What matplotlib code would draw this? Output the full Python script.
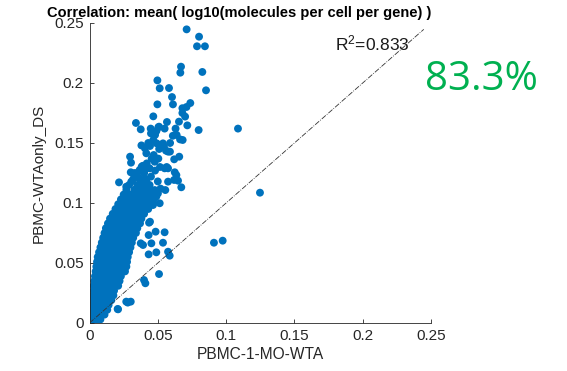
import matplotlib
matplotlib.use("Agg")
import matplotlib.pyplot as plt

plt.rcParams['font.family'] = ['Liberation Sans', 'DejaVu Sans']
plt.rcParams['mathtext.fontset'] = 'custom'
plt.rcParams['mathtext.rm'] = 'Liberation Sans'
plt.rcParams['mathtext.it'] = 'Liberation Sans'

# dense band: y level of each row and x values read along that row
band_y = [0.003, 0.007, 0.011, 0.015, 0.019, 0.023, 0.027, 0.031, 0.035, 0.039,
          0.043, 0.047, 0.051, 0.055, 0.059, 0.063, 0.067, 0.071, 0.075, 0.079,
          0.083, 0.087, 0.091, 0.095, 0.099, 0.103, 0.107, 0.111, 0.115, 0.120, 0.125]
band_x = [
    [0.0005, 0.002, 0.004, 0.006, 0.008],
    [0.001, 0.003, 0.005, 0.007, 0.009, 0.011],
    [0.001, 0.0035, 0.006, 0.0085, 0.011, 0.013],
    [0.0015, 0.004, 0.0065, 0.009, 0.0115, 0.014],
    [0.002, 0.0045, 0.007, 0.0095, 0.012, 0.0145, 0.016],
    [0.0025, 0.005, 0.0075, 0.010, 0.0125, 0.015, 0.0175],
    [0.003, 0.0055, 0.008, 0.0105, 0.013, 0.0155, 0.018],
    [0.003, 0.006, 0.0085, 0.011, 0.0135, 0.016, 0.019, 0.021],
    [0.0035, 0.006, 0.009, 0.0115, 0.014, 0.0165, 0.019, 0.022],
    [0.004, 0.0065, 0.0095, 0.012, 0.0145, 0.017, 0.020, 0.023],
    [0.0045, 0.007, 0.010, 0.0125, 0.015, 0.0175, 0.0205, 0.0235, 0.026],
    [0.005, 0.0075, 0.0105, 0.013, 0.0155, 0.018, 0.021, 0.024, 0.027],
    [0.0055, 0.008, 0.011, 0.0135, 0.016, 0.0185, 0.0215, 0.0245, 0.0275],
    [0.006, 0.009, 0.0115, 0.014, 0.0165, 0.019, 0.022, 0.025, 0.028],
    [0.007, 0.0095, 0.012, 0.0145, 0.017, 0.0195, 0.0225, 0.0255, 0.029],
    [0.008, 0.0105, 0.013, 0.0155, 0.018, 0.0205, 0.023, 0.026, 0.030],
    [0.009, 0.0115, 0.014, 0.0165, 0.019, 0.0215, 0.024, 0.027, 0.031],
    [0.010, 0.0125, 0.015, 0.0175, 0.020, 0.0225, 0.025, 0.028, 0.032],
    [0.0110, 0.014, 0.0165, 0.019, 0.0215, 0.024, 0.0265, 0.029, 0.034],
    [0.012, 0.0155, 0.018, 0.0205, 0.023, 0.0255, 0.028, 0.031, 0.035],
    [0.0135, 0.017, 0.0195, 0.022, 0.0245, 0.027, 0.030, 0.033, 0.037],
    [0.015, 0.0185, 0.021, 0.0235, 0.026, 0.0285, 0.031, 0.034, 0.038],
    [0.017, 0.021, 0.0235, 0.026, 0.029, 0.032, 0.036, 0.040],
    [0.019, 0.023, 0.026, 0.029, 0.032, 0.035, 0.039, 0.043],
    [0.021, 0.025, 0.028, 0.031, 0.035, 0.038, 0.042, 0.046],
    [0.023, 0.027, 0.031, 0.034, 0.038, 0.042, 0.047],
    [0.025, 0.030, 0.034, 0.037, 0.041, 0.045],
    [0.027, 0.033, 0.036, 0.040, 0.044],
    [0.029, 0.035, 0.039, 0.043],
    [0.032, 0.037, 0.041],
    [0.035, 0.040],
]

# scattered points above the band
spread_x = [0.0711, 0.0802, 0.0787, 0.0845, 0.0670, 0.0665, 0.0826, 0.0497, 0.0514, 0.0582,
            0.0853, 0.0604, 0.0497, 0.0611, 0.0738, 0.068, 0.071, 0.068, 0.070, 0.0467,
            0.034, 0.0375, 0.0448, 0.0504, 0.0567, 0.0655, 0.0716, 0.0799, 0.063, 0.0638,
            0.0663, 0.0682, 0.048, 0.0467, 0.0492, 0.038, 0.0406, 0.043, 0.0443, 0.0528,
            0.0545, 0.056, 0.0589, 0.062, 0.0657, 0.0297, 0.0304, 0.0382, 0.0419, 0.0455,
            0.0504, 0.0516, 0.0565, 0.0477, 0.044, 0.0404, 0.0367, 0.0302, 0.055, 0.0575,
            0.0624, 0.0636, 0.0619, 0.0648, 0.0672, 0.0575, 0.0555, 0.0501, 0.0216, 0.0269,
            0.0306, 0.0331, 0.0379, 0.0416, 0.044, 0.0477, 0.0489, 0.0428, 0.0355, 0.0258,
            0.0233, 0.0306, 0.0379, 0.0465, 0.0514, 0.0509, 0.055, 0.0416, 0.0538, 0.0575,
            0.040, 0.045, 0.050, 0.036, 0.048, 0.052, 0.033, 0.043, 0.039, 0.047,
            0.051, 0.045, 0.049, 0.059, 0.061]
spread_y = [0.2447, 0.2386, 0.2306, 0.2306, 0.2136, 0.2086, 0.2092, 0.2022, 0.1956, 0.1958,
            0.1939, 0.1883, 0.1822, 0.1822, 0.1833, 0.179, 0.180, 0.175, 0.172, 0.1722,
            0.1667, 0.1614, 0.162, 0.1631, 0.1675, 0.1678, 0.1647, 0.1608, 0.162, 0.1567,
            0.153, 0.1525, 0.1567, 0.1525, 0.1497, 0.148, 0.1456, 0.150, 0.1475, 0.148,
            0.147, 0.1436, 0.1428, 0.1364, 0.1386, 0.1386, 0.1336, 0.1303, 0.133, 0.137,
            0.137, 0.130, 0.130, 0.1344, 0.1289, 0.1275, 0.1275, 0.1256, 0.1289, 0.1289,
            0.1256, 0.1233, 0.1192, 0.1186, 0.1131, 0.1178, 0.1108, 0.108, 0.1172, 0.1136,
            0.1178, 0.1108, 0.1136, 0.1192, 0.115, 0.1108, 0.1053, 0.1053, 0.1053, 0.1011,
            0.0998, 0.0983, 0.0983, 0.0983, 0.0998, 0.1636, 0.162, 0.1414, 0.1497, 0.1428,
            0.118, 0.122, 0.118, 0.121, 0.127, 0.112, 0.125, 0.109, 0.131, 0.140,
            0.145, 0.158, 0.160, 0.150, 0.156]

# points to the right of the band
side_x = [0.1087, 0.1248, 0.0911, 0.0975, 0.0436, 0.0484, 0.055, 0.0433, 0.0453, 0.0375,
          0.0392, 0.0538, 0.0489, 0.0433, 0.0575, 0.0587, 0.0509, 0.0399, 0.0409, 0.0269,
          0.0302, 0.0209, 0.0111, 0.0172, 0.0443, 0.0206, 0.028]
side_y = [0.162, 0.1086, 0.0669, 0.0686, 0.0836, 0.0761, 0.0756, 0.0733, 0.0664, 0.0664,
          0.065, 0.0669, 0.0589, 0.0572, 0.0594, 0.0561, 0.0408, 0.0358, 0.0331, 0.0178,
          0.0178, 0.0114, 0.0719, 0.0844, 0.0844, 0.0117, 0.017]

x_ticks = [0, 0.05, 0.1, 0.15, 0.2, 0.25]
y_ticks = [0, 0.05, 0.1, 0.15, 0.2, 0.25]
tick_labels = ['0', '0.05', '0.1', '0.15', '0.2', '0.25']

W, H = 567, 371
fig = plt.figure(figsize=(W / 100, H / 100), dpi=100)
ax = fig.add_axes([89.5 / W, 1 - 323 / H, (431 - 89.5) / W, 300 / H])

bx = [x for row in band_x for x in row]
by = [y for y, row in zip(band_y, band_x) for _ in row]
blue = '#0072BD'
for xs, ys in [(bx, by), (spread_x, spread_y), (side_x, side_y)]:
    ax.scatter(xs, ys, s=32, color=blue, edgecolors='none', zorder=2)

line_end = max(spread_y)
ax.plot([0, line_end], [0, line_end], linestyle='-.', color='#333333',
        linewidth=0.6, zorder=3)

ax.set_xlim(0, 0.25)
ax.set_ylim(0, 0.25)
ax.set_xticks(x_ticks)
ax.set_xticklabels(tick_labels)
ax.set_yticks(y_ticks)
ax.set_yticklabels(tick_labels)
for s in ['top', 'right']:
    ax.spines[s].set_visible(False)
for s in ['left', 'bottom']:
    ax.spines[s].set_color('#262626')
    ax.spines[s].set_linewidth(0.6)
ax.tick_params(direction='in', length=3, width=0.6, colors='#262626',
               labelsize=11, pad=4)
ax.set_xlabel('PBMC-1-MO-WTA', fontsize=11.2, color='#262626', labelpad=3)
ax.set_ylabel('PBMC-WTAonly_DS', fontsize=11, color='#262626', labelpad=6)

fig.text(239.5 / W, 1 - 13.5 / H, 'Correlation: mean( log10(molecules per cell per gene) )',
         ha='center', va='center', fontsize=10.5, fontweight='bold', color='black')
fig.text(335 / W, 1 - 43 / H, r'R$^{2}$=0.833', ha='left', va='center',
         fontsize=12.5, color='#1a1a1a')
fig.text(481.5 / W, 1 - 80 / H, '83.3%', ha='center', va='center', fontsize=29,
         color='#00B050', family=['Open Sans', 'DejaVu Sans'])

fig.savefig('out.png', dpi=100)
